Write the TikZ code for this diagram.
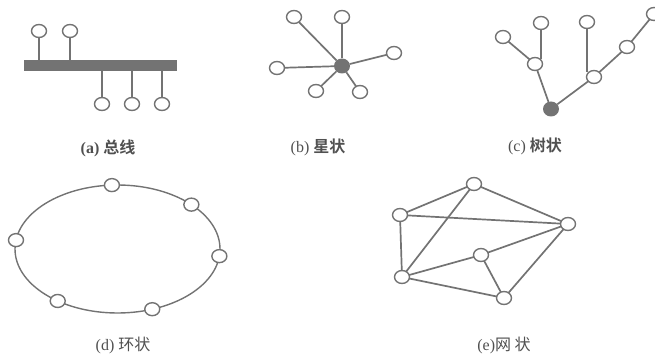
\documentclass[tikz,border=0pt]{standalone}
\usepackage{fontspec}
\setmainfont{Liberation Serif}
\newfontfamily\cjk{Noto Sans CJK SC}
\newfontfamily\cjkb{Noto Sans CJK SC Bold}
\usetikzlibrary{shapes.geometric}
\definecolor{ln}{RGB}{115,115,115}
\definecolor{tx}{RGB}{80,80,80}
\tikzset{
  nd/.style={ellipse,draw=ln,line width=1.4pt,fill=white,minimum width=15pt,minimum height=13pt,inner sep=0pt,outer sep=0pt},
  hub/.style={ellipse,fill=ln,minimum width=16pt,minimum height=15pt,inner sep=0pt,outer sep=0pt},
  edge/.style={draw=ln,line width=1.7pt},
  lbl/.style={text=tx,font=\fontsize{16}{18}\selectfont,inner sep=0pt}
}
\begin{document}
\begin{tikzpicture}[x=1pt,y=-1pt]
\useasboundingbox (0,0) rectangle (655,355);
% (a) bus
\node[fill=ln,minimum width=153pt,minimum height=11pt,inner sep=0pt,outer sep=0pt] (bar) at (100.5,65.5) {};
\node[nd] (a1) at (39,31) {};
\node[nd] (a2) at (70,31) {};
\node[nd] (a3) at (102,104) {};
\node[nd] (a4) at (132,104) {};
\node[nd] (a5) at (162,104) {};
\foreach \n in {a1,a2}{\draw[edge] (\n.south) -- (\n.south |- bar.north);}
\foreach \n in {a3,a4,a5}{\draw[edge] (\n.north) -- (\n.north |- bar.south);}
\node[lbl] (la) at (108,148) {\textbf{(a)} {\cjkb 总线}};
% (b) star
\node[hub] (s0) at (342,66) {};
\node[nd] (s1) at (294,17) {};
\node[nd] (s2) at (342,17) {};
\node[nd] (s3) at (394,53) {};
\node[nd] (s4) at (277,68) {};
\node[nd] (s5) at (316,91) {};
\node[nd] (s6) at (360,92) {};
\foreach \n in {s1,s2,s3,s4,s5,s6}{\draw[edge] (s0) -- (\n);}
\node[lbl] (lb) at (318,147) {(b) {\cjkb 星状}};
% (c) tree
\node[hub] (t0) at (551,109) {};
\node[nd] (tA) at (535,64) {};
\node[nd] (tB) at (503,37) {};
\node[nd] (tC) at (541,23) {};
\node[nd] (tD) at (594,77) {};
\node[nd] (tE) at (587,22) {};
\node[nd] (tF) at (627,47) {};
\node[nd] (tG) at (654,14) {};
\draw[edge] (t0) -- (tA);
\draw[edge] (t0) -- (tD);
\draw[edge] (tA) -- (tB);
\draw[edge] (tC.south) -- (tC.south |- tA.north east);
\draw[edge] (tE.south) -- (tE.south |- tD.north west);
\draw[edge] (tD) -- (tF);
\draw[edge] (tF) -- (tG);
\node[lbl] (lc) at (535,146) {(c) {\cjkb 树状}};
% (d) ring
\node[ellipse,draw=ln,line width=1.4pt,minimum width=205pt,minimum height=128pt,inner sep=0pt,outer sep=0pt] (ring) at (117.5,249) {};
\foreach \a/\n in {95/r1,31/r2,-4/r3,-60/r4,221/r5,175/r6}{\node[nd] (\n) at (ring.\a) {};}
\node[lbl] (ld) at (123,345) {(d) {\cjk 环状}};
% (e) mesh
\node[nd] (mT) at (474,184) {};
\node[nd] (mL) at (400,215) {};
\node[nd] (mR) at (568,224) {};
\node[nd] (mM) at (481,255) {};
\node[nd] (mBL) at (402,277) {};
\node[nd] (mB) at (504,298) {};
\foreach \u/\v in {mL/mT,mT/mR,mL/mR,mT/mBL,mL/mBL,mBL/mM,mM/mR,mM/mB,mB/mR,mBL/mB}{\draw[edge] (\u) -- (\v);}
\node[lbl] (le) at (504,345) {(e){\cjk 网 状}};
\end{tikzpicture}
\end{document}
